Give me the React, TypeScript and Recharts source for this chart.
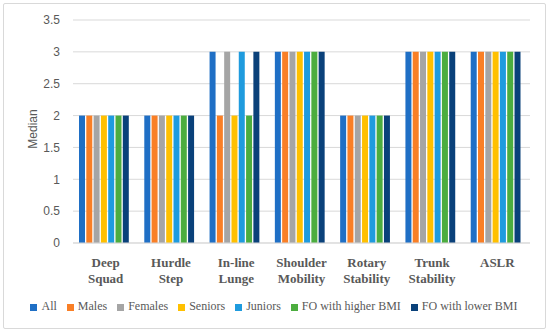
import * as React from "react";
import {
  Bar,
  BarChart,
  CartesianGrid,
  Label,
  Legend,
  XAxis,
  YAxis,
} from "recharts";

const categories = [
  ["Deep", "Squad"],
  ["Hurdle", "Step"],
  ["In-line", "Lunge"],
  ["Shoulder", "Mobility"],
  ["Rotary", "Stability"],
  ["Trunk", "Stability"],
  ["ASLR"],
];

const allValues = [2, 2, 3, 3, 2, 3, 3];
const malesValues = [2, 2, 2, 3, 2, 3, 3];
const femalesValues = [2, 2, 3, 3, 2, 3, 3];
const seniorsValues = [2, 2, 2, 3, 2, 3, 3];
const juniorsValues = [2, 2, 3, 3, 2, 3, 3];
const higherBmiValues = [2, 2, 2, 3, 2, 3, 3];
const lowerBmiValues = [2, 2, 3, 3, 2, 3, 3];

const yTicks = [0, 0.5, 1, 1.5, 2, 2.5, 3, 3.5];

const series = [
  { key: "All", values: allValues, color: "#1F6FC5" },
  { key: "Males", values: malesValues, color: "#F97F26" },
  { key: "Females", values: femalesValues, color: "#A5A5A5" },
  { key: "Seniors", values: seniorsValues, color: "#FFC000" },
  { key: "Juniors", values: juniorsValues, color: "#1F9BDE" },
  { key: "FO with higher BMI", values: higherBmiValues, color: "#4CAD3F" },
  { key: "FO with lower BMI", values: lowerBmiValues, color: "#0A417A" },
];

const chartData = categories.map((lines, i) => {
  const row: Record<string, string | number> = { name: lines.join(" ") };
  series.forEach((s) => {
    row[s.key] = s.values[i];
  });
  return row;
});

const textGray = "#595959";
const gridGray = "#d9d9d9";
const serifFont = "'Liberation Serif', 'Times New Roman', serif";

function CategoryTick({ x = 0, y = 0, payload }: any) {
  const idx = payload?.index ?? 0;
  const lines = categories[idx] ?? [String(payload?.value ?? "")];
  return (
    <text
      x={x}
      y={y}
      textAnchor="middle"
      fill={textGray}
      fontFamily={serifFont}
      fontWeight="bold"
      fontSize={13}
    >
      {lines.map((line) => (
        <tspan key={line} x={x} dy={16}>
          {line}
        </tspan>
      ))}
    </text>
  );
}

export default function App() {
  return (
    <div
      style={{
        position: "absolute",
        left: 0,
        top: 0,
        width: 550,
        height: 332,
        background: "#fff",
      }}
    >
      <div
        style={{
          position: "absolute",
          left: 3,
          top: 3,
          width: 541,
          height: 324,
          border: `1px solid ${gridGray}`,
          borderRadius: 2,
        }}
      />
      <BarChart
        width={550}
        height={332}
        data={chartData}
        margin={{ top: 20, right: 20, left: 0, bottom: 39 }}
        barCategoryGap={6}
        barGap={1.3}
      >
        <CartesianGrid vertical={false} stroke={gridGray} />
        <XAxis
          dataKey="name"
          height={50}
          axisLine={{ stroke: gridGray }}
          tickLine={false}
          tick={<CategoryTick />}
          interval={0}
        />
        <YAxis
          width={73}
          domain={[0, 3.5]}
          ticks={yTicks}
          axisLine={false}
          tickLine={false}
          tickMargin={7}
          tick={{ fill: textGray, fontSize: 12, fontFamily: "'Liberation Sans', sans-serif" }}
        >
          <Label
            value="Median"
            content={() => (
              <text
                x={33}
                y={129}
                transform="rotate(-90 33 129)"
                textAnchor="middle"
                dominantBaseline="central"
                fill={textGray}
                fontSize={12}
                fontFamily="'Liberation Sans', sans-serif"
              >
                Median
              </text>
            )}
          />
        </YAxis>
        <Legend
          verticalAlign="middle"
          layout="horizontal"
          align="center"
          iconType="square"
          iconSize={7}
          itemSorter={(item: any) =>
            series.findIndex((s) => s.key === item.value)
          }
          wrapperStyle={{
            top: 298,
            left: 4,
            width: 550,
            fontFamily: serifFont,
            fontSize: 12,
            lineHeight: "16px",
          }}
          formatter={(value: string) => (
            <span style={{ color: textGray, fontFamily: serifFont, fontSize: 12 }}>
              {value}
            </span>
          )}
        />
        {series.map((s) => (
          <Bar
            key={s.key}
            dataKey={s.key}
            fill={s.color}
            isAnimationActive={false}
          />
        ))}
      </BarChart>
    </div>
  );
}
